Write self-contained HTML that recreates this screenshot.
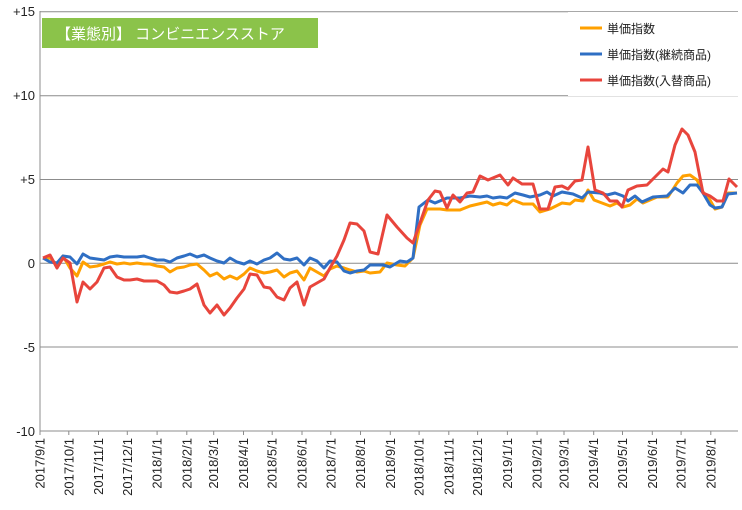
<!DOCTYPE html>
<html><head><meta charset="utf-8"><style>
body{margin:0;background:#fff}
svg{display:block;font-family:"Liberation Sans","Noto Sans CJK JP",sans-serif}
</style></head><body>
<svg width="742" height="510" viewBox="0 0 742 510">
<g stroke="#8c8c8c" stroke-width="1">
<line x1="40" y1="11.7" x2="738" y2="11.7"/>
<line x1="40" y1="95.7" x2="738" y2="95.7"/>
<line x1="40" y1="179.5" x2="738" y2="179.5"/>
<line x1="40" y1="263.3" x2="738" y2="263.3"/>
<line x1="40" y1="347" x2="738" y2="347"/>
<line x1="40" y1="431" x2="738" y2="431"/>
<line x1="40" y1="11" x2="40" y2="431"/>
<path d="M40,431v4M68.8,431v4M98.5,431v4M127.3,431v4M157.1,431v4M186.8,431v4M213.7,431v4M243.5,431v4M272.2,431v4M302,431v4M330.8,431v4M360.5,431v4M390.3,431v4M419.1,431v4M448.8,431v4M477.6,431v4M507.4,431v4M537.1,431v4M564,431v4M593.7,431v4M622.5,431v4M652.3,431v4M681.1,431v4M710.8,431v4"/>
</g>
<g font-size="13" fill="#222" text-anchor="end">
<text x="35" y="16">+15</text><text x="35" y="100">+10</text><text x="35" y="184">+5</text>
<text x="35" y="268">0</text><text x="35" y="352">-5</text><text x="35" y="436">-10</text>
</g>
<g font-size="13" fill="#222" text-anchor="end">
<text transform="translate(44.5,438) rotate(-90)">2017/9/1</text>
<text transform="translate(73.3,438) rotate(-90)">2017/10/1</text>
<text transform="translate(103,438) rotate(-90)">2017/11/1</text>
<text transform="translate(131.8,438) rotate(-90)">2017/12/1</text>
<text transform="translate(161.6,438) rotate(-90)">2018/1/1</text>
<text transform="translate(191.3,438) rotate(-90)">2018/2/1</text>
<text transform="translate(218.2,438) rotate(-90)">2018/3/1</text>
<text transform="translate(248,438) rotate(-90)">2018/4/1</text>
<text transform="translate(276.7,438) rotate(-90)">2018/5/1</text>
<text transform="translate(306.5,438) rotate(-90)">2018/6/1</text>
<text transform="translate(335.3,438) rotate(-90)">2018/7/1</text>
<text transform="translate(365,438) rotate(-90)">2018/8/1</text>
<text transform="translate(394.8,438) rotate(-90)">2018/9/1</text>
<text transform="translate(423.6,438) rotate(-90)">2018/10/1</text>
<text transform="translate(453.3,438) rotate(-90)">2018/11/1</text>
<text transform="translate(482.1,438) rotate(-90)">2018/12/1</text>
<text transform="translate(511.9,438) rotate(-90)">2019/1/1</text>
<text transform="translate(541.6,438) rotate(-90)">2019/2/1</text>
<text transform="translate(568.5,438) rotate(-90)">2019/3/1</text>
<text transform="translate(598.2,438) rotate(-90)">2019/4/1</text>
<text transform="translate(627,438) rotate(-90)">2019/5/1</text>
<text transform="translate(656.8,438) rotate(-90)">2019/6/1</text>
<text transform="translate(685.6,438) rotate(-90)">2019/7/1</text>
<text transform="translate(715.3,438) rotate(-90)">2019/8/1</text>
</g>
<rect x="42" y="18" width="276" height="30" fill="#8bc34a"/>
<text x="56" y="39" font-size="15" fill="#fff">【業態別】 コンビニエンスストア</text>
<g fill="none" stroke-width="3" stroke-linejoin="round">
<polyline stroke="#ffa000" points="43,258 50,258 57,265 63,256 70,268 77,276 83,262 90,267 97,266 104,264 110,262 117,264 124,263 130,264 137,263 144,264 150,264 157,266 164,267 170,272 177,268 184,267 190,265 197,264 204,270 210,276 217,273 224,279 230,276 237,279 244,274 250,268 257,271 264,273 270,272 277,270 284,277 290,273 297,271 304,280 310,268 317,272 324,276 330,269 337,266 344,268 350,270 357,272 364,271 370,273 380,272 387,263 397,265 405,266 413,258 420,225 427,209 440,209 447,210 460,210 470,206 487,202 493,205 500,203 507,205 513,200 523,204 533,204 540,212 550,209 562,203 570,204 575,200 583,201 588,190 594,200 610,206 617,203 623,207 630,205 637,199 643,203 657,197 668,197 677,183 683,176 690,175 697,180 703,192 710,200 715,209 722,207 728,193 737,193"/>
<polyline stroke="#2f6fc4" points="43,258 50,262 57,263 63,256 70,257 77,264 83,254 90,258 97,259 104,260 110,257 117,256 124,257 130,257 137,257 144,256 150,258 157,260 164,260 170,262 177,258 184,256 190,254 197,257 204,255 210,258 217,261 224,263 230,258 237,262 244,264 250,261 257,264 264,260 270,258 277,253 284,259 290,260 297,258 304,265 310,258 317,261 324,268 330,261 337,262 344,271 350,273 357,271 364,270 370,265 383,265 390,267 400,261 407,262 413,258 419,207 428,200 435,203 447,198 460,198 470,196 480,197 487,196 493,198 500,197 507,198 515,193 523,195 530,197 540,195 547,192 553,196 562,192 573,194 582,198 588,192 600,193 607,195 615,193 623,196 628,201 635,196 642,202 653,197 667,196 675,188 683,193 690,185 697,185 703,193 710,205 715,208 722,207 728,194 737,193"/>
<polyline stroke="#e8453c" points="43,258 50,255 57,268 63,258 70,263 77,302 83,282 90,289 97,282 104,268 110,267 117,277 124,280 130,280 137,279 144,281 150,281 157,281 164,285 170,292 177,293 184,291 190,289 197,284 204,305 210,313 217,305 224,315 230,308 237,298 244,289 250,274 257,275 264,287 270,288 277,297 284,300 290,288 297,282 304,305 310,287 317,283 324,279 330,268 337,256 344,240 350,223 357,224 364,231 370,252 378,254 387,215 397,227 407,238 413,243 428,200 435,191 440,192 447,208 453,195 460,202 467,193 473,192 480,176 488,180 500,175 508,185 513,178 522,184 533,184 540,209 548,209 555,187 562,186 568,189 575,181 582,180 588,147 595,190 603,193 610,201 617,201 622,207 628,190 637,186 647,185 655,177 663,169 668,172 675,145 682,129 688,135 695,152 703,193 710,196 717,201 723,201 729,179 737,187"/>
</g>
<rect x="568" y="12" width="170" height="84" fill="#fff"/>
<g stroke-width="3">
<line x1="580" y1="28" x2="602" y2="28" stroke="#ffa000"/>
<line x1="580" y1="54" x2="602" y2="54" stroke="#2f6fc4"/>
<line x1="580" y1="80" x2="602" y2="80" stroke="#e8453c"/>
</g>
<g font-size="12" fill="#222">
<text x="607" y="33">単価指数</text>
<text x="607" y="59">単価指数(継続商品)</text>
<text x="607" y="85">単価指数(入替商品)</text>
</g>
</svg>
</body></html>
